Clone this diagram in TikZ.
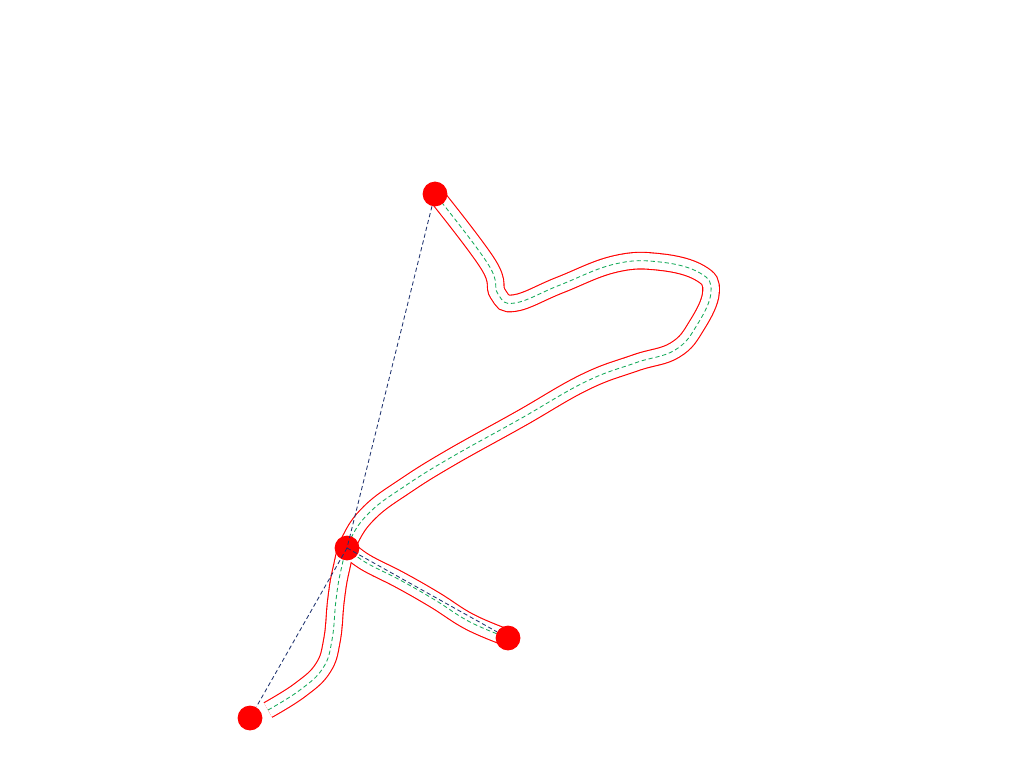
\documentclass[tikz,border=0pt]{standalone}
\usepackage{tikz}
\definecolor{treeblue}{RGB}{30,50,110}
\definecolor{routegreen}{RGB}{20,170,90}

\begin{document}
\begin{tikzpicture}[x=0.025cm, y=-0.025cm,
    stop/.style={circle, fill=red, minimum size=0.62cm, inner sep=0pt},
    corridor/.style={draw=red, line width=12.6pt, line cap=butt},
    inside/.style={draw=white, line width=11pt, line cap=butt},
    route/.style={draw=routegreen, line width=0.6pt, dash pattern=on 3pt off 2pt},
    tree/.style={draw=treeblue, line width=0.6pt, dash pattern=on 3pt off 2pt}]

    \useasboundingbox (0,0) rectangle (1024,768);

    % nodes (stops)
    \coordinate (A) at (435,194);
    \coordinate (B) at (347,548);
    \coordinate (C) at (508,638);
    \coordinate (D) at (250,718);
    \coordinate (d0) at (268,710); % start of route near D

    % corridor (outline, then inside)
    \foreach \s in {corridor, inside, route}{
      \path[\s] plot[smooth, tension=0.7] coordinates {(d0) (300,690) (323,668) (332,640)
        (336,600) (341,570) (350,540) (370,512) (405,486) (450,458) (520,419) (585,382)
        (635,363) (675,350) (697,325) (711,292) (700,273) (660,262) (615,264)
        (560,285) (515,303) (498,294) (488,264) (A)};
      \path[\s] plot[smooth, tension=0.7] coordinates {(B) (365,562) (400,580) (435,600)
        (470,622) (C)};
    }

    % stops on top
    \node[stop] (a) at (A) {};
    \node[stop] (b) at (B) {};
    \node[stop] (c) at (C) {};
    \node[stop] (d) at (D) {};

    % edges (tree)
    \draw[tree] (a) -- (B);
    \draw[tree] (B) -- (d);
    \draw[tree] (B) -- (c);

\end{tikzpicture}
\end{document}
